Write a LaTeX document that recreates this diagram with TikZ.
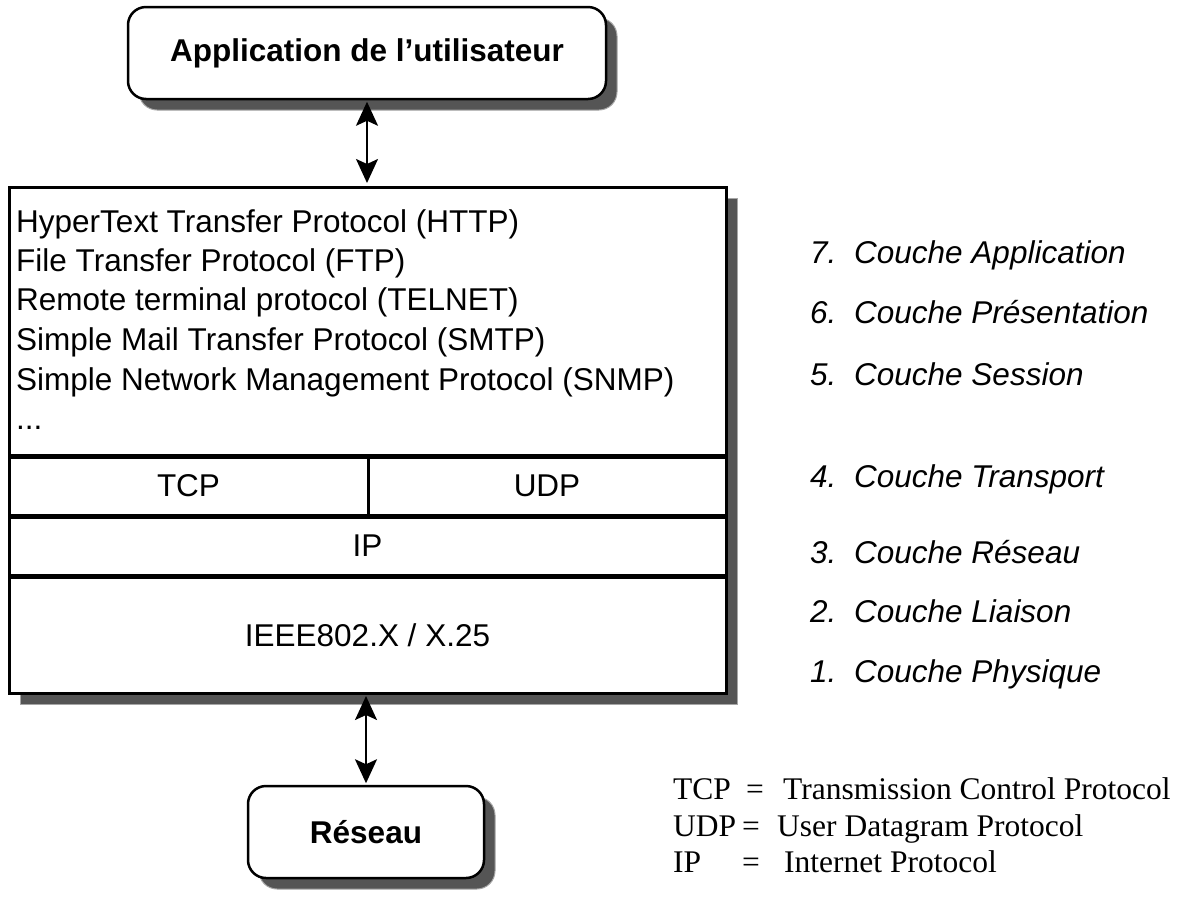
\documentclass[tikz,border=0pt]{standalone}
\usepackage{fontspec}
\setmainfont{Liberation Sans}
\newfontfamily\legendfont{Liberation Serif}
\usetikzlibrary{arrows.meta,shadows}
\definecolor{shadowgray}{RGB}{85,85,85}
\begin{document}
\begin{tikzpicture}[x=1pt,y=-1pt,
  txt/.style={inner sep=0pt, font=\fontsize{31.5}{38}\selectfont, anchor=base west},
  ctxt/.style={inner sep=0pt, font=\fontsize{31.5}{38}\selectfont},
  osi/.style={txt, font=\fontsize{31.5}{38}\selectfont\itshape},
  leg/.style={txt, font=\fontsize{31.5}{38}\legendfont},
  layer/.style={draw, line width=3pt, fill=white, inner sep=0pt, font=\fontsize{31.5}{38}\selectfont},
  endbox/.style={draw, line width=2.5pt, fill=white, rounded corners=18pt, inner sep=0pt,
     font=\fontsize{31.5}{38}\selectfont\bfseries,
     general shadow={shadow xshift=11pt, shadow yshift=-11pt, fill=shadowgray, draw=gray!70, line width=1pt}},
  arr/.style={line width=2pt, {Stealth[length=24pt,width=22pt,inset=5pt]}-{Stealth[length=24pt,width=22pt,inset=5pt]}}
]
\useasboundingbox (0,0) rectangle (1189,906);

% shadow of the protocol stack
\fill[shadowgray, draw=gray!70, line width=1pt] (20,198) rectangle (737,704);

% layers
\node[layer, minimum width=717pt, minimum height=268pt] (app) at (367.5,321) {};
\node[layer, minimum width=359pt, minimum height=58pt] (tcp) at (188.5,486) {TCP};
\node[layer, minimum width=358pt, minimum height=58pt] (udp) at (547,486) {UDP};
\node[layer, minimum width=717pt, minimum height=58pt] (ip) at (367.5,546) {IP};
\node[layer, minimum width=717pt, minimum height=116pt] (ieee) at (367.5,635) {IEEE802.X / X.25};

% application protocols
\node[txt] (l1) at (16,232.7) {HyperText Transfer Protocol (HTTP)};
\node[txt] (l2) at (16,271.5) {File Transfer Protocol (FTP)};
\node[txt] (l3) at (16,310.5) {Remote terminal protocol (TELNET)};
\node[txt] (l4) at (16,350.5) {Simple Mail Transfer Protocol (SMTP)};
\node[txt] (l5) at (16,390) {Simple Network Management Protocol (SNMP)};
\node[txt] (l6) at (16,429) {...};

% end boxes
\node[endbox, minimum width=478pt, minimum height=92pt] (top) at (367,53) {Application de l’utilisateur};
\node[endbox, minimum width=236pt, minimum height=92pt] (res) at (366,832) {Réseau};

% connectors
\draw[arr, shorten <=1.5pt, shorten >=2.5pt] (top.south) -- (top.south |- app.north);
\draw[arr, shorten <=1.5pt, shorten >=1.5pt] (ieee.south -| res.north) -- (res.north);

% OSI layers
\node[osi] (n7) at (810,263) {7.};
\node[osi] (c7) at (854,263) {Couche Application};
\node[osi] (n6) at (810,323) {6.};
\node[osi] (c6) at (854,323) {Couche Présentation};
\node[osi] (n5) at (810,385) {5.};
\node[osi] (c5) at (854,385) {Couche Session};
\node[osi] (n4) at (810,487) {4.};
\node[osi] (c4) at (854,487) {Couche Transport};
\node[osi] (n3) at (810,563) {3.};
\node[osi] (c3) at (854,563) {Couche Réseau};
\node[osi] (n2) at (810,622) {2.};
\node[osi] (c2) at (854,622) {Couche Liaison};
\node[osi] (n1) at (810,682) {1.};
\node[osi] (c1) at (854,682) {Couche Physique};

% legend
\node[leg] (ga) at (673,799) {TCP};
\node[leg] (ge) at (746,799) {=};
\node[leg] (gd) at (783,799) {Transmission Control Protocol};
\node[leg] (ha) at (673,836) {UDP};
\node[leg] (he) at (742,836) {=};
\node[leg] (hd) at (777,836) {User Datagram Protocol};
\node[leg] (ia) at (673,872) {IP};
\node[leg] (ie) at (742,872) {=};
\node[leg] (id) at (784,872) {Internet Protocol};
\end{tikzpicture}
\end{document}
